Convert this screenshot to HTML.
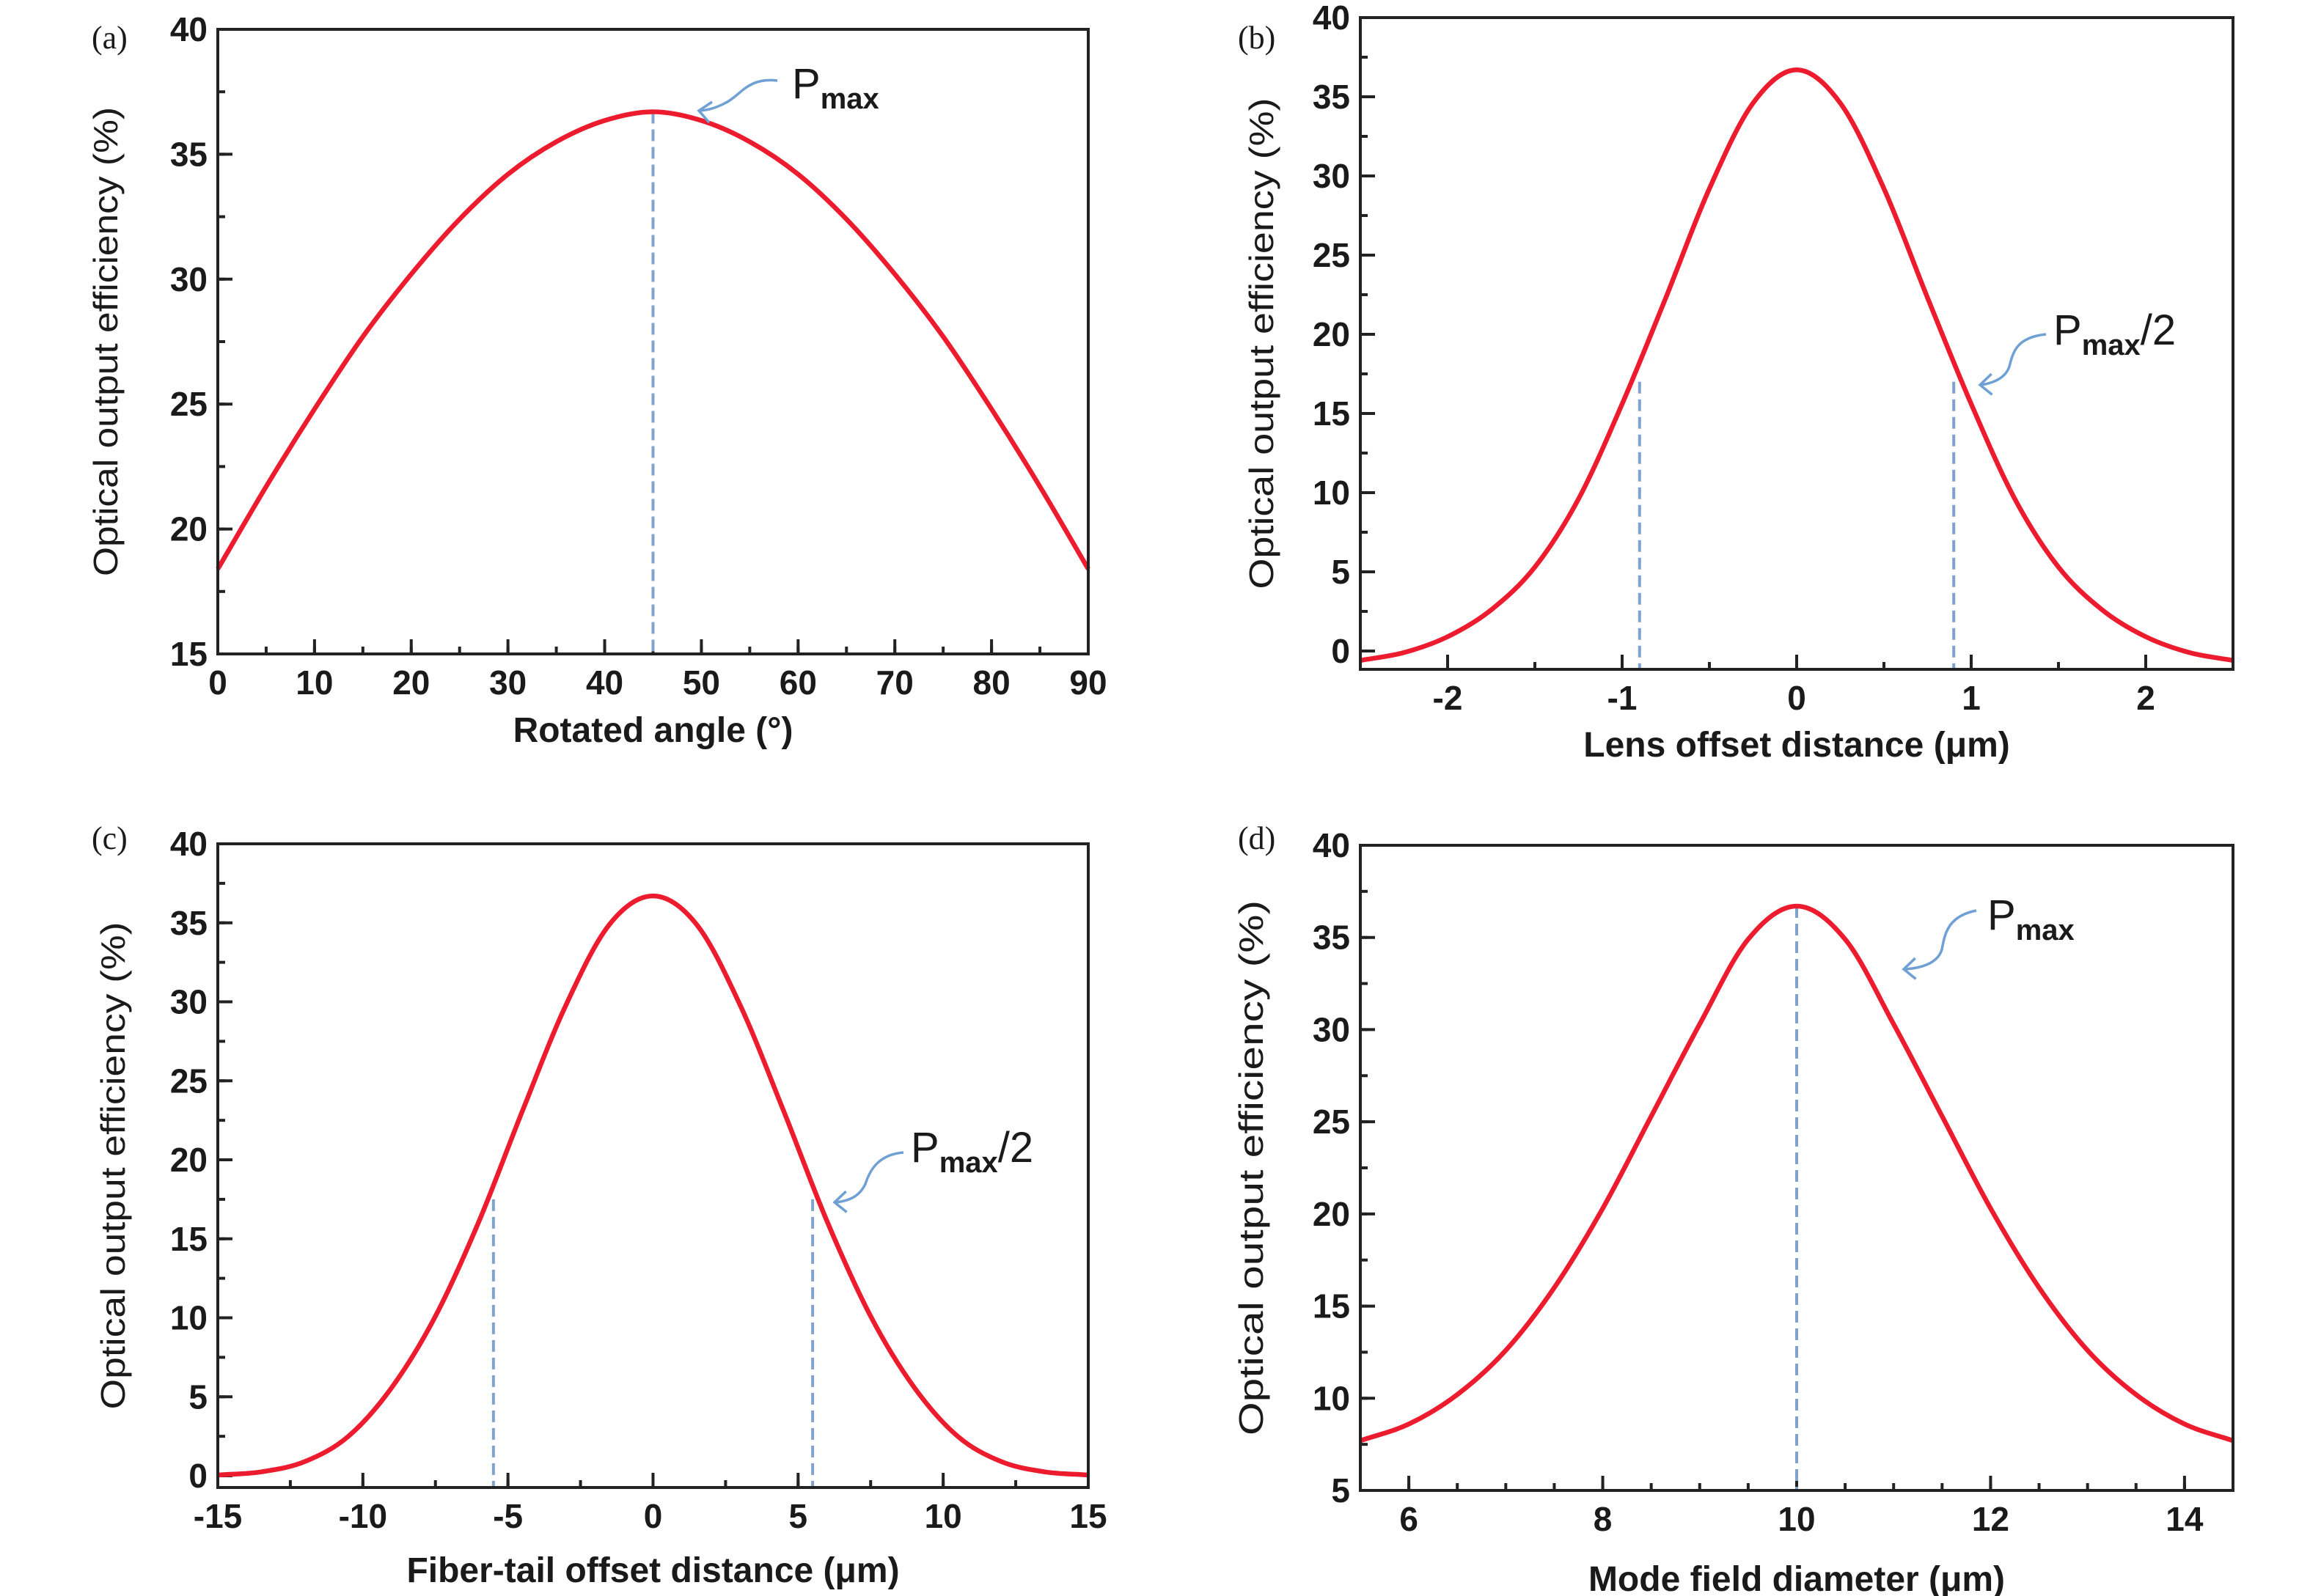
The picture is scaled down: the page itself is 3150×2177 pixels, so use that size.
<!DOCTYPE html>
<html><head><meta charset="utf-8"><style>
html,body{margin:0;padding:0;background:#fff;}
svg{display:block;}
text{font-family:"Liberation Sans Narrow","Liberation Sans",sans-serif;fill:#1a1a1a;}
</style></head><body>
<svg id="fig" width="3150" height="2177" viewBox="0 0 3150 2177" xmlns="http://www.w3.org/2000/svg"></svg>
<script>
// Panel (a)
const aX = [0,5,10,15,20,25,30,35,40,45,50,55,60,65,70,75,80,85,90];
const aY = [18.4,21.7,24.8,27.7,30.2,32.4,34.2,35.5,36.35,36.7,36.35,35.5,34.2,32.4,30.2,27.7,24.8,21.7,18.4];
const aXTicks = [0,10,20,30,40,50,60,70,80,90];
const aYTicks = [15,20,25,30,35,40];
// Panel (b)
const bX = [-2.5,-2.25,-2,-1.75,-1.5,-1.25,-1,-0.75,-0.5,-0.25,0,0.25,0.5,0.75,1,1.25,1.5,1.75,2,2.25,2.5];
const bY = [-0.6,-0.1,0.9,2.6,5.3,9.6,15.6,22.3,29.2,34.6,36.7,34.6,29.2,22.3,15.6,9.6,5.3,2.6,0.9,-0.1,-0.6];
const bXTicks = [-2,-1,0,1,2];
const bYTicks = [0,5,10,15,20,25,30,35,40];
// Panel (c)
const cX = [-15,-13.5,-12,-10.5,-9,-7.5,-6,-4.5,-3,-1.5,0,1.5,3,4.5,6,7.5,9,10.5,12,13.5,15];
const cY = [0.05,0.25,0.9,2.5,5.6,10.1,16.1,23.1,29.8,34.9,36.7,34.9,29.8,23.1,16.1,10.1,5.6,2.5,0.9,0.25,0.05];
const cXTicks = [-15,-10,-5,0,5,10,15];
const cYTicks = [0,5,10,15,20,25,30,35,40];
// Panel (d)
const dX = [5.5,6,6.5,7,7.5,8,8.5,9,9.5,10,10.5,11,11.5,12,12.5,13,13.5,14,14.5];
const dY = [7.7,8.6,10.2,12.6,16.0,20.3,25.3,30.3,34.9,36.7,34.9,30.3,25.3,20.3,16.0,12.6,10.2,8.6,7.7];
const dXTicks = [6,8,10,12,14];
const dYTicks = [5,10,15,20,25,30,35,40];
// Reference markers
const aMarks = [45];
const bMarks = [-0.9,0.9];
const cMarks = [-5.5,5.5];
const dMarks = [10];

const NS = "http://www.w3.org/2000/svg";
const svg = document.getElementById('fig');
function mk(tag, attrs, parent){
  const e = document.createElementNS(NS, tag);
  for (const k in attrs) e.setAttribute(k, attrs[k]);
  (parent||svg).appendChild(e);
  return e;
}
function smooth(pts){
  const n = pts.length, m = [];
  for (let i=0;i<n;i++){
    const a = pts[Math.max(0,i-1)], b = pts[Math.min(n-1,i+1)];
    m.push((b[1]-a[1])/(b[0]-a[0]));
  }
  let d = `M${pts[0][0]},${pts[0][1]}`;
  for (let i=0;i<n-1;i++){
    const p1=pts[i], p2=pts[i+1], h=(p2[0]-p1[0])/3;
    d += ` C${p1[0]+h},${p1[1]+m[i]*h} ${p2[0]-h},${p2[1]-m[i+1]*h} ${p2[0]},${p2[1]}`;
  }
  return d;
}
function panel(o){
  const g = mk('g', {});
  
  
  const sx = v => o.L + (v - o.xmin) / (o.xmax - o.xmin) * (o.R - o.L);
  const sy = v => o.B - (v - o.ymin) / (o.ymax - o.ymin) * (o.B - o.T);
  for (let v = o.xTicks[0] - o.xMinor*2; v <= o.xmax + 1e-9; v += o.xMinor){
    if (v < o.xmin - 1e-9) continue;
    const t = mk('line', {x1:sx(v), x2:sx(v), y1:o.B, y2:o.B-10, stroke:'#222','stroke-width':4}, g);
    
    
  }
  for (let v = o.yTicks[0] - o.yMinor*2; v <= o.ymax + 1e-9; v += o.yMinor){
    if (v < o.ymin - 1e-9) continue;
    const t = mk('line', {x1:o.L, x2:o.L+10, y1:sy(v), y2:sy(v), stroke:'#222','stroke-width':4}, g);
    
    
  }
  o.xTicks.forEach(v => {
    const t = mk('line', {x1:sx(v), x2:sx(v), y1:o.B, y2:o.B-20, stroke:'#222','stroke-width':4}, g);
    
    
    const l = mk('text', {x:sx(v), y:o.B+55, 'text-anchor':'middle','font-size':46,'font-weight':'bold'}, g);
    l.textContent = v;
    
    
  });
  o.yTicks.forEach(v => {
    const t = mk('line', {x1:o.L, x2:o.L+20, y1:sy(v), y2:sy(v), stroke:'#222','stroke-width':4}, g);
    
    
    const l = mk('text', {x:o.L-14, y:sy(v)+16, 'text-anchor':'end','font-size':46,'font-weight':'bold'}, g);
    l.textContent = v;
    
    
  });
  o.marks.forEach(m => {
    const dl = mk('line', {x1:sx(m), x2:sx(m), y1:sy(o.markY), y2:o.B, stroke:'#7fa3cc','stroke-width':4,'stroke-dasharray':'16,8'}, g);
    
    
  });
  const pts = o.xs.map((x,i)=>[sx(x), sy(o.ys[i])]);
  const c = mk('path', {d:smooth(pts), fill:'none', stroke:'#ec1c2e','stroke-width':6.5,'stroke-linejoin':'round'}, g);
  
  
  const f = mk('rect', {x:o.L, y:o.T, width:o.R-o.L, height:o.B-o.T, fill:'none', stroke:'#222','stroke-width':4}, g);
  
  
  const xt = mk('text', {x:(o.L+o.R)/2, y:o.xTitleY, 'text-anchor':'middle','font-size':48,'font-weight':'bold'}, g);
  xt.textContent = o.xTitle;
  
  
  const cy = (o.T+o.B)/2;
  const yt = mk('text', {x:o.yTitleX, y:cy, 'text-anchor':'middle','font-size':46, transform:`rotate(-90 ${o.yTitleX} ${cy})`, textLength:o.yLen, lengthAdjust:'spacingAndGlyphs', style:'font-family:"Liberation Sans",sans-serif'}, g);
  yt.textContent = 'Optical output efficiency (%)';
  
  
  const pl = mk('text', {x:o.pX, y:o.pY, 'font-size':44, style:'font-family:"Liberation Serif",serif'}, g);
  pl.textContent = '(' + o.id + ')';
  
  
  const ar = mk('path', {d:o.arrow, fill:'none', stroke:'#6fa0d4','stroke-width':3.5}, g);
  
  
  const [hx,hy,ang] = o.head;
  const hd = mk('path', {d:`M${hx+18},${hy-12} L${hx},${hy} L${hx+14},${hy+16}`, fill:'none', stroke:'#6fa0d4','stroke-width':3.5, transform:`rotate(${ang} ${hx} ${hy})`}, g);
  
  
  const at = mk('text', {x:o.aX, y:o.aY, 'font-size':58}, g);
  
  
  at.innerHTML = `P<tspan font-size="40" dy="14" font-weight="bold">max</tspan>` + (o.half ? `<tspan dy="-14">/2</tspan>` : '');
}
panel({id:'a', L:297,R:1484,T:40,B:892, xmin:0,xmax:90,ymin:15,ymax:40, xMinor:5,yMinor:2.5,
  xs:aX, ys:aY, xTicks:aXTicks, yTicks:aYTicks, marks:aMarks, markY:36.7,
  xTitle:'Rotated angle (°)', xTitleY:1012, yTitleX:160, yLen:640, pX:125, pY:66,
  arrow:'M1060,110 C1020,105 1010,130 990,140 C975,148 965,150 955,151', head:[953,151,0], aX:1080, aY:134, half:false});
panel({id:'b', L:1855,R:3045,T:24,B:913, xmin:-2.5,xmax:2.5,ymin:-1.16,ymax:40, xMinor:0.5,yMinor:2.5,
  xs:bX, ys:bY, xTicks:bXTicks, yTicks:bYTicks, marks:bMarks, markY:17,
  xTitle:'Lens offset distance (μm)', xTitleY:1032, yTitleX:1736, yLen:670, pX:1688, pY:66,
  arrow:'M2790,456 C2750,460 2745,480 2740,500 C2735,515 2720,522 2702,525', head:[2700,525,-10], aX:2800, aY:470, half:true});
panel({id:'c', L:297,R:1484,T:1151,B:2029, xmin:-15,xmax:15,ymin:-0.74,ymax:40, xMinor:2.5,yMinor:2.5,
  xs:cX, ys:cY, xTicks:cXTicks, yTicks:cYTicks, marks:cMarks, markY:17.5,
  xTitle:'Fiber-tail offset distance (μm)', xTitleY:2158, yTitleX:170, yLen:665, pX:125, pY:1158,
  arrow:'M1232,1572 C1195,1575 1185,1600 1180,1615 C1172,1632 1158,1638 1140,1640', head:[1138,1640,-10], aX:1242, aY:1585, half:true});
panel({id:'d', L:1855,R:3045,T:1153,B:2033, xmin:5.5,xmax:14.5,ymin:5,ymax:40, xMinor:0.5,yMinor:2.5,
  xs:dX, ys:dY, xTicks:dXTicks, yTicks:dYTicks, marks:dMarks, markY:36.7,
  xTitle:'Mode field diameter (μm)', xTitleY:2170, yTitleX:1722, yLen:730, pX:1688, pY:1158,
  arrow:'M2695,1242 C2655,1250 2652,1275 2648,1295 C2643,1312 2625,1320 2598,1322', head:[2596,1322,-10], aX:2710, aY:1268, half:false});
</script>
</body></html>
